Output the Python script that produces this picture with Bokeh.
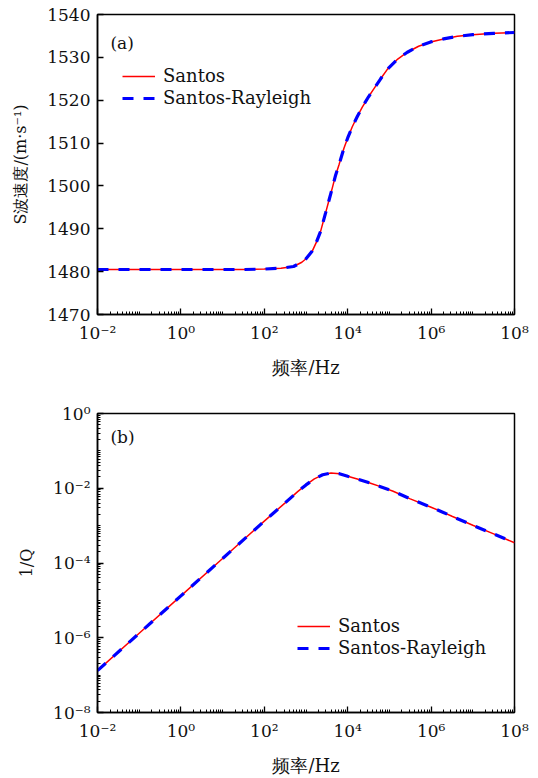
from bokeh.plotting import figure
from bokeh.layouts import column
from bokeh.models import (FixedTicker, CustomJSTickFormatter, Label, Legend,
                          LegendItem, Range1d)
from bokeh.embed import file_html
from bokeh.resources import INLINE

# ---------------- data ----------------
# panel (a): S-wave velocity vs frequency
vel_freq_exp = [-2, -1, 0, 1, 1.5, 2.0, 2.4, 2.7, 2.9, 3.0, 3.15, 3.25, 3.35,
                3.47, 3.55, 3.63, 3.71, 3.79, 3.91, 4.0, 4.11, 4.23, 4.35, 4.5,
                4.63, 4.79, 4.95, 5.2, 5.43, 5.7, 5.99, 6.3, 6.63, 7.0, 7.5, 8.0]
vel_santos = [1480.5, 1480.5, 1480.5, 1480.5, 1480.5, 1480.6, 1480.8, 1481.2,
              1482.2, 1483.0, 1484.8, 1486.9, 1489.4, 1493.7, 1496.6, 1499.5,
              1502.5, 1504.9, 1508.8, 1511.2, 1513.8, 1516.2, 1518.4, 1520.8,
              1522.7, 1525.0, 1527.2, 1529.6, 1531.2, 1532.6, 1533.6, 1534.3,
              1534.9, 1535.3, 1535.6, 1535.8]
vel_santos_rayleigh = list(vel_santos)

# panel (b): attenuation 1/Q vs frequency
q_freq_exp = [-2, -1, 0, 1, 2, 2.5, 2.8, 3.0, 3.2, 3.4, 3.6, 3.8, 4.0, 4.25,
              4.53, 4.77, 5.09, 5.5, 6.0, 6.28, 6.5, 7.0, 7.5, 8.0]
invq_santos = [1.32e-7, 1.32e-6, 1.32e-5, 1.32e-4, 1.32e-3, 4.07e-3, 8.1e-3,
               1.23e-2, 1.78e-2, 2.29e-2, 2.57e-2, 2.45e-2, 2.09e-2, 1.74e-2,
               1.38e-2, 1.12e-2, 8.3e-3, 5.2e-3, 3.1e-3, 2.29e-3, 1.78e-3,
               1.02e-3, 6.0e-4, 3.47e-4]
invq_santos_rayleigh = list(invq_santos)

vel_freq = [10.0 ** e for e in vel_freq_exp]
q_freq = [10.0 ** e for e in q_freq_exp]

x_major = [10.0 ** e for e in [-2, 0, 2, 4, 6, 8]]
x_minor = [k * 10.0 ** e for e in range(-2, 8) for k in range(1, 10)]
vel_ticks = [1470, 1480, 1490, 1500, 1510, 1520, 1530, 1540]
q_major = [10.0 ** e for e in [-8, -6, -4, -2, 0]]
q_minor = [k * 10.0 ** e for e in range(-8, 0) for k in range(1, 10)]

series_names = ["Santos", "Santos-Rayleigh"]

FONT = "DejaVu Serif"
W = 538

sup_js = """
const sup = {"-":"\u207b","0":"\u2070","1":"\u00b9","2":"\u00b2","3":"\u00b3",
             "4":"\u2074","5":"\u2075","6":"\u2076","7":"\u2077","8":"\u2078","9":"\u2079"};
const e = Math.round(Math.log10(tick));
return "10" + String(e).split("").map(c => sup[c]).join("");
"""


def style(p):
    p.grid.visible = False
    p.outline_line_color = "black"
    p.outline_line_width = 1.5
    p.background_fill_color = "white"
    p.border_fill_color = "white"
    for ax in p.axis:
        ax.axis_line_width = 1.5
        ax.major_tick_in = 6
        ax.major_tick_out = 0
        ax.minor_tick_in = 3
        ax.minor_tick_out = 0
        ax.major_tick_line_width = 1.3
        ax.minor_tick_line_width = 1
        ax.major_label_text_font = FONT
        ax.major_label_text_font_size = "17px"
        ax.major_label_text_color = "#111111"
        ax.axis_label_text_font = FONT
        ax.axis_label_text_font_style = "normal"
        ax.axis_label_text_color = "#111111"
    p.xaxis.axis_label_text_font_size = "18px"
    p.yaxis.axis_label_text_font_size = "16px"
    p.xaxis.major_label_standoff = 8
    p.yaxis.major_label_standoff = 7
    p.xaxis.axis_label_standoff = 11
    p.yaxis.axis_label_standoff = 14


def add_legend(p, r1, r2, loc):
    leg = Legend(items=[LegendItem(label=series_names[0], renderers=[r1]),
                        LegendItem(label=series_names[1], renderers=[r2])],
                 location=loc)
    leg.background_fill_alpha = 0
    leg.border_line_alpha = 0
    leg.margin = 0
    leg.padding = 0
    leg.spacing = 1
    leg.glyph_width = 33
    leg.glyph_height = 20
    leg.label_height = 20
    leg.label_standoff = 8
    leg.label_text_font = FONT
    leg.label_text_font_size = "18px"
    leg.label_text_color = "#111111"
    p.add_layout(leg)


# ---------------- panel (a) ----------------
p1 = figure(width=W, height=380, x_axis_type="log", output_backend="svg",
            toolbar_location=None, x_range=Range1d(1e-2, 1e8),
            y_range=Range1d(1470, 1540),
            min_border_left=97, min_border_right=24, min_border_top=14,
            min_border_bottom=65)
r1 = p1.line(vel_freq, vel_santos, line_color="red", line_width=1.5)
r2 = p1.line(vel_freq, vel_santos_rayleigh, line_color="blue", line_width=3.2,
             line_dash="11 10")
p1.xaxis.ticker = FixedTicker(ticks=x_major, minor_ticks=x_minor)
p1.xaxis.formatter = CustomJSTickFormatter(code=sup_js)
p1.yaxis.ticker = FixedTicker(ticks=vel_ticks, minor_ticks=[])
p1.xaxis.axis_label = "频率/Hz"
p1.yaxis.axis_label = "S波速度/(m·s⁻¹)"
style(p1)
add_legend(p1, r1, r2, (25, 206))
p1.add_layout(Label(x=0.0204, y=1533.3, text="(a)", text_font=FONT,
                    text_font_size="17px", text_baseline="middle",
                    text_color="#111111"))

# ---------------- panel (b) ----------------
p2 = figure(width=W, height=398, x_axis_type="log", y_axis_type="log",
            output_backend="svg", toolbar_location=None,
            x_range=Range1d(1e-2, 1e8), y_range=Range1d(1e-8, 1),
            min_border_left=97, min_border_right=24, min_border_top=33,
            min_border_bottom=63)
s1 = p2.line(q_freq, invq_santos, line_color="red", line_width=1.5)
s2 = p2.line(q_freq, invq_santos_rayleigh, line_color="blue", line_width=3.2,
             line_dash="11 10")
p2.xaxis.ticker = FixedTicker(ticks=x_major, minor_ticks=x_minor)
p2.xaxis.formatter = CustomJSTickFormatter(code=sup_js)
p2.yaxis.ticker = FixedTicker(ticks=q_major, minor_ticks=q_minor)
p2.yaxis.formatter = CustomJSTickFormatter(code=sup_js)
p2.xaxis.axis_label = "频率/Hz"
p2.yaxis.axis_label = "1/Q"
style(p2)
add_legend(p2, s1, s2, (200, 54))
p2.add_layout(Label(x=0.0204, y=0.229, text="(b)", text_font=FONT,
                    text_font_size="17px", text_baseline="middle",
                    text_color="#111111"))

layout = column(p1, p2, spacing=0)
open("out.html", "w").write(file_html(layout, INLINE))
